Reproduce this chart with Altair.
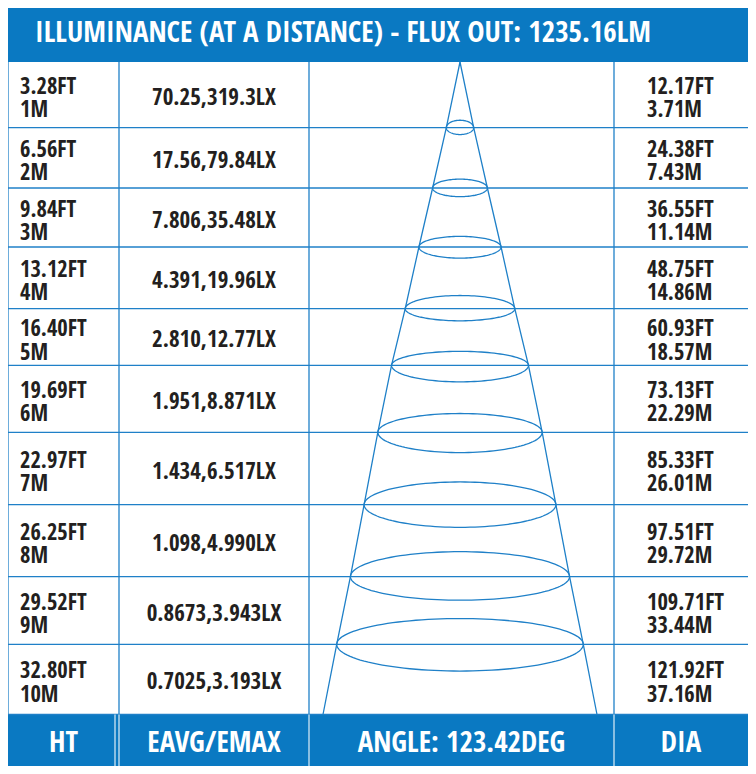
import altair as alt
import pandas as pd

# ---------------- data ----------------
dist_m = [1, 2, 3, 4, 5, 6, 7, 8, 9, 10]
ht_ft = ["3.28FT", "6.56FT", "9.84FT", "13.12FT", "16.40FT", "19.69FT",
         "22.97FT", "26.25FT", "29.52FT", "32.80FT"]
eavg_emax = ["70.25,319.3LX", "17.56,79.84LX", "7.806,35.48LX", "4.391,19.96LX",
             "2.810,12.77LX", "1.951,8.871LX", "1.434,6.517LX", "1.098,4.990LX",
             "0.8673,3.943LX", "0.7025,3.193LX"]
dia_ft = ["12.17FT", "24.38FT", "36.55FT", "48.75FT", "60.93FT", "73.13FT",
          "85.33FT", "97.51FT", "109.71FT", "121.92FT"]
dia_m = [3.71, 7.43, 11.14, 14.86, 18.57, 22.29, 26.01, 29.72, 33.44, 37.16]
title_text = "ILLUMINANCE (AT A DISTANCE) - FLUX OUT: 1235.16LM"
footer_labels = ["HT", "EAVG/EMAX", "ANGLE: 123.42DEG", "DIA"]

# ---------------- layout / style ----------------
W, H = 740, 758
COL_EDGES = [0, 111, 301, 606, W]
Y_DOMAIN = [-1, 0, 1, 2, 3, 4, 5, 6, 7, 8, 9, 10, 11]
ROW_EDGES = [0, 54, 119.7, 180, 239, 300.7, 357.3, 424.3, 496.7, 568.7, 636.3, 706.5, H]
BLUE = "#0a79c2"
LINE = "#1f80c8"
INK = "#231f20"
FONT = "Open Sans Condensed, Roboto Condensed, sans-serif"

xs = alt.Scale(domain=[0, 1, 2, 3, 4], range=COL_EDGES, nice=False, zero=False)
ys = alt.Scale(domain=Y_DOMAIN, range=ROW_EDGES, nice=False, zero=False)
half_max = max(dia_m) / 2
cone_xs = alt.Scale(domain=[-half_max, half_max], range=[315, 589], nice=False, zero=False)


def xd(v):
    return alt.XDatum(v, type="quantitative", scale=xs, axis=None)


def yd(v):
    return alt.YDatum(v, type="quantitative", scale=ys, axis=None)


rows = pd.DataFrame({
    "m": dist_m,
    "ht": [f"{a}\n{b}M" for a, b in zip(ht_ft, dist_m)],
    "eavg": eavg_emax,
    "dia": dia_m,
    "dial": [f"{a}\n{b:.2f}M" for a, b in zip(dia_ft, dia_m)],
})
one = pd.DataFrame({"k": [0]})
cols = pd.DataFrame({"col": [0, 1, 2, 3]})
foot = pd.DataFrame({"label": footer_labels, "col": [0, 1, 2, 3]})

# ---------------- background: bands + grid ----------------
header = alt.Chart(one).mark_rect(color=BLUE).encode(
    x=xd(0), x2=alt.X2Datum(4), y=yd(-1), y2=alt.Y2Datum(0))
footer = alt.Chart(one).mark_rect(color=BLUE).encode(
    x=xd(0), x2=alt.X2Datum(4), y=yd(10), y2=alt.Y2Datum(11))
hgrid = alt.Chart(rows).mark_rule(color=LINE, strokeWidth=1.3).encode(
    x=xd(0), x2=alt.X2Datum(4),
    y=alt.Y("m:Q", scale=ys, axis=None))
vgrid = alt.Chart(cols).mark_rule(color=LINE, strokeWidth=1.3).encode(
    x=alt.X("col:Q", scale=xs, axis=None),
    y=yd(0), y2=alt.Y2Datum(10))
fsep = alt.Chart(cols).transform_filter("datum.col > 0").mark_rule(
    color="white", strokeWidth=1.3, opacity=0.8).encode(
    x=alt.X("col:Q", scale=xs, axis=None),
    y=yd(10), y2=alt.Y2Datum(11))
fsep2 = alt.Chart(one).mark_rule(
    color="white", strokeWidth=1.3, opacity=0.8, xOffset=-4).encode(
    x=xd(1), y=yd(10), y2=alt.Y2Datum(11))

bg = alt.layer(header, footer, hgrid, vgrid, fsep, fsep2)

# ---------------- beam cone ----------------
cone_pts = [{"side": s, "m": 0, "x": 0.0} for s in (-1, 1)]
for s in (-1, 1):
    for m, d in zip(dist_m, dia_m):
        cone_pts.append({"side": s, "m": m, "x": s * d / 2})
cone_df = pd.DataFrame(cone_pts)

sides = alt.Chart(cone_df).mark_line(color=LINE, strokeWidth=1.3).encode(
    x=alt.X("x:Q", scale=cone_xs, axis=None),
    y=alt.Y("m:Q", scale=ys, axis=None),
    detail="side:N",
    order="m:Q")

ellipses = alt.Chart(rows).transform_filter("datum.m < 10").transform_calculate(
    t="sequence(0, 2 * PI + 0.05, PI / 60)"
).transform_flatten(["t"]).transform_calculate(
    ex="datum.dia / 2 * cos(datum.t)",
    ey="datum.m + (0.08 + 0.009 * datum.dia) * sin(datum.t)",
).mark_line(color=LINE, strokeWidth=1.3).encode(
    x=alt.X("ex:Q", scale=cone_xs, axis=None),
    y=alt.Y("ey:Q", scale=ys, axis=None),
    detail="m:N",
    order="t:Q")

cone = alt.layer(sides, ellipses)

# ---------------- texts ----------------
title = alt.Chart(pd.DataFrame({"label": [title_text]})).mark_text(
    font=FONT, fontWeight="bold", fontSize=29, color="white",
    align="left", baseline="middle", dx=27, dy=-2).encode(
    x=xd(0), y=yd(-0.5), text="label:N")

foot_txt = alt.Chart(foot).transform_calculate(xc="datum.col + 0.5").mark_text(
    font=FONT, fontWeight="bold", fontSize=29, color="white",
    align="center", baseline="middle", dy=3).encode(
    x=alt.X("xc:Q", scale=xs, axis=None), y=yd(10.5), text="label:N")

row_y = alt.Y("yc:Q", scale=ys, axis=None)
base_rows = alt.Chart(rows).transform_calculate(yc="datum.m - 0.5")

ht_txt = base_rows.mark_text(
    font=FONT, fontWeight="bold", fontSize=22.5, color=INK, align="left",
    baseline="middle", lineBreak="\n", lineHeight=23.5, dx=12, dy=-8).encode(
    x=xd(0), y=row_y, text="ht:N")

eavg_txt = base_rows.mark_text(
    font=FONT, fontWeight="bold", fontSize=23, color=INK, align="center",
    baseline="middle", dy=3).encode(
    x=xd(1.5), y=row_y, text="eavg:N")

dia_txt = base_rows.mark_text(
    font=FONT, fontWeight="bold", fontSize=22.5, color=INK, align="left",
    baseline="middle", lineBreak="\n", lineHeight=23.5, dx=33, dy=-8).encode(
    x=xd(3), y=row_y, text="dial:N")

texts = alt.layer(title, foot_txt, ht_txt, eavg_txt, dia_txt)

chart = alt.layer(bg, cone, texts).resolve_scale(x="independent").properties(
    width=W, height=H, padding=0,
    autosize=alt.AutoSizeParams(type="none"),
    background="white",
).configure_view(stroke=None)

chart.save("out.html", embed_options={"renderer": "svg", "actions": False})
